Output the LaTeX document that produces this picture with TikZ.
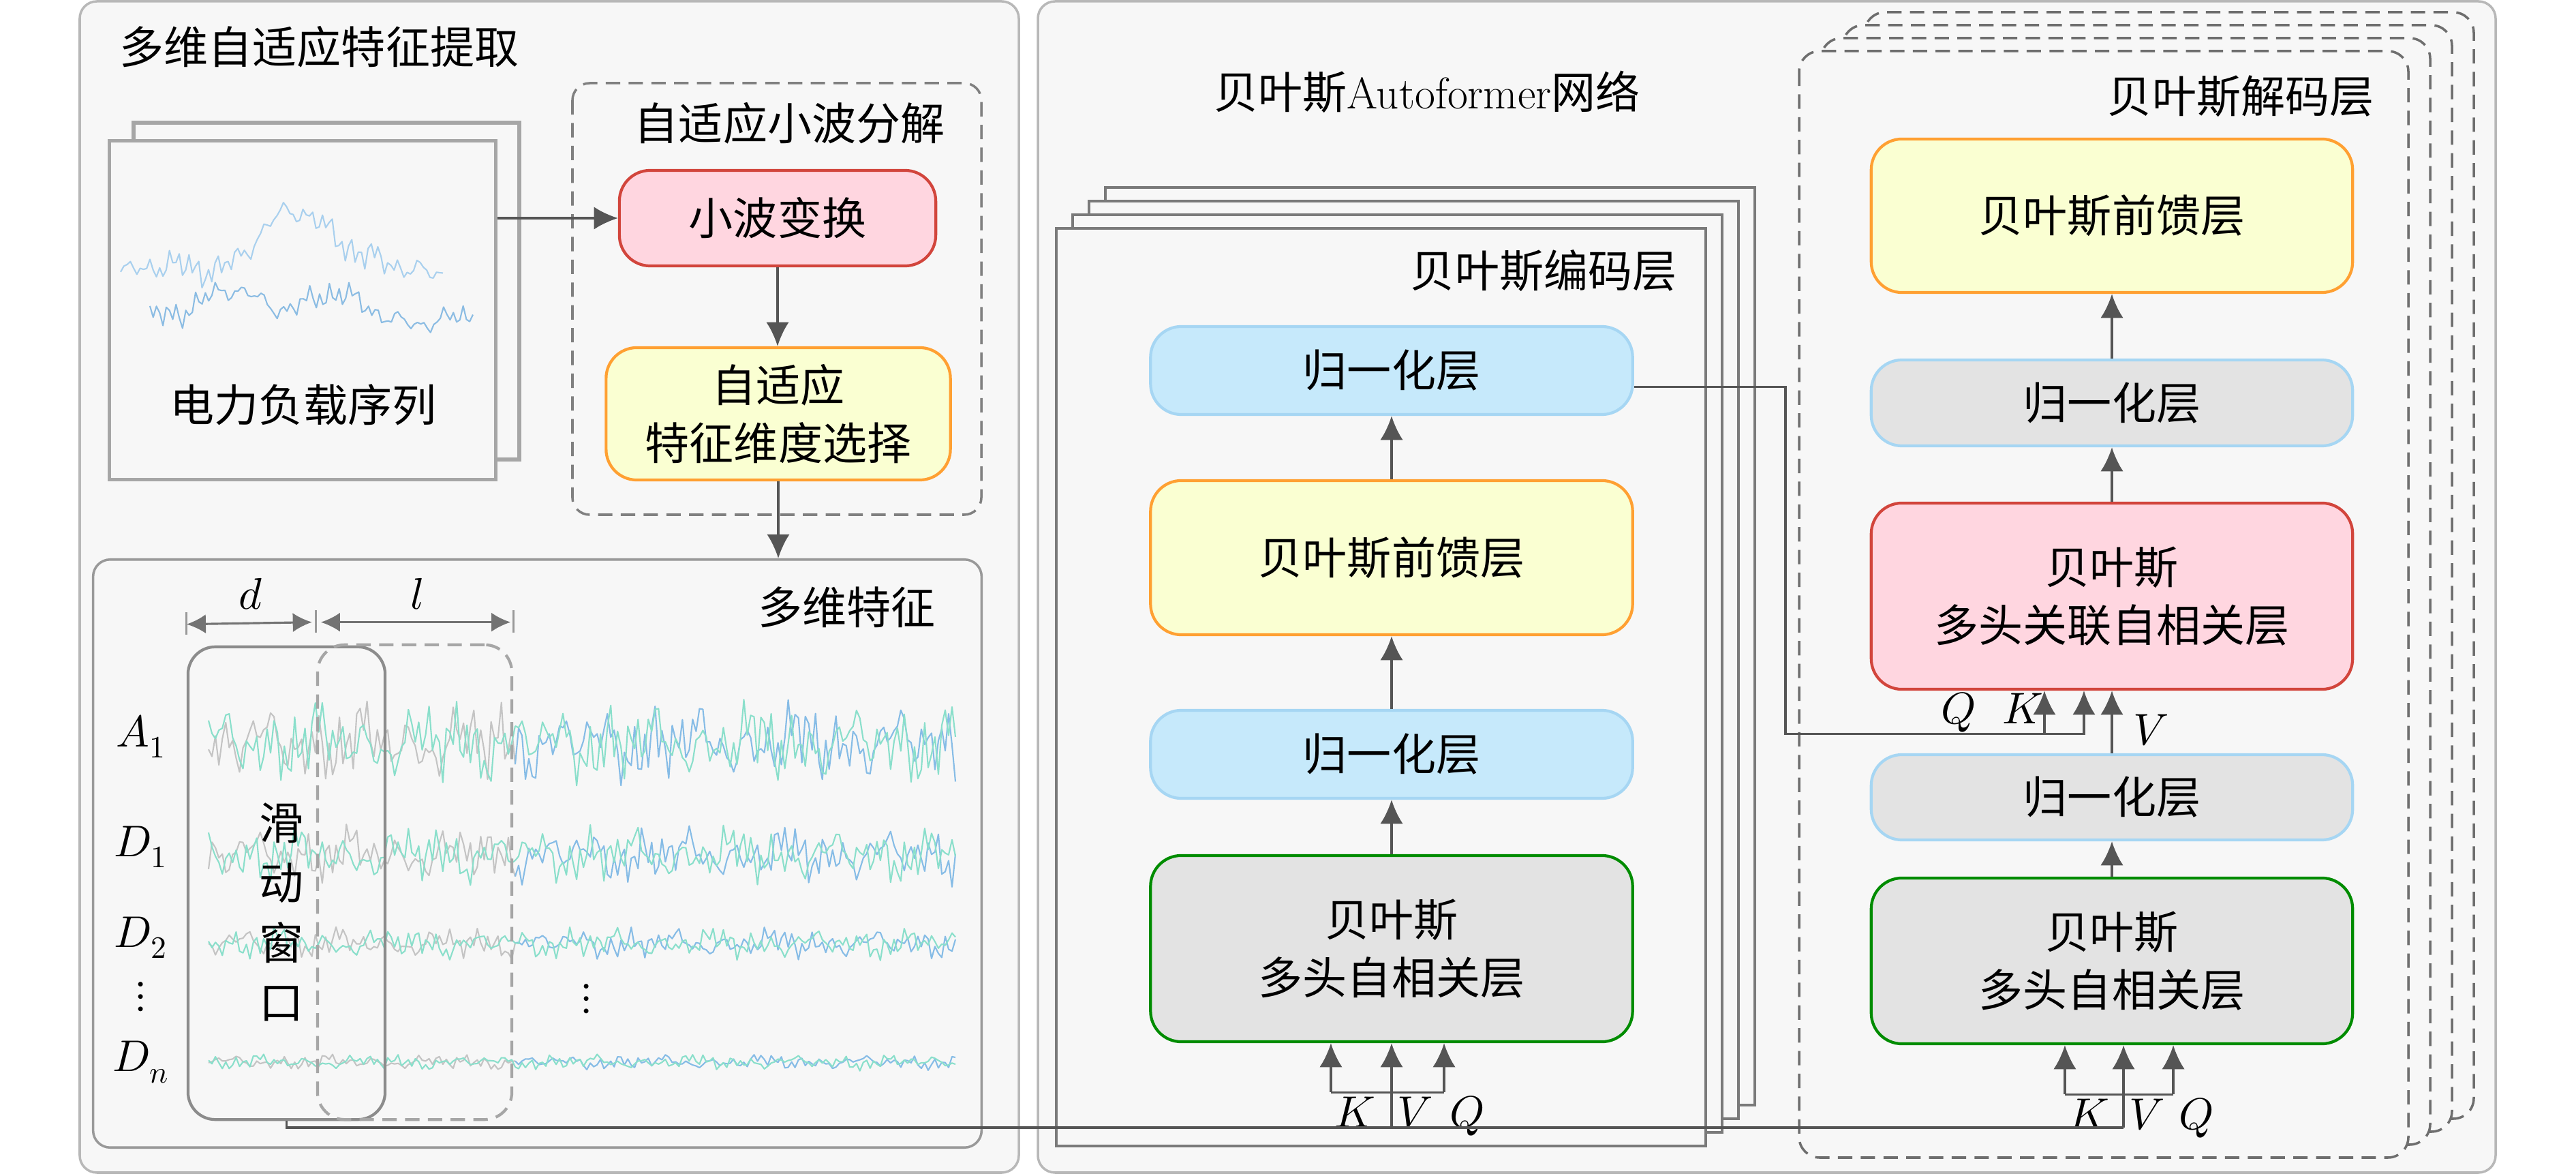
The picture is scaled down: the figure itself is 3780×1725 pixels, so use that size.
\documentclass[tikz,border=0pt]{standalone}
\usepackage{fontspec}
\usepackage{unicode-math}
\setmathfont{Latin Modern Math}
\newfontfamily\cjk{Noto Sans CJK SC}
\usetikzlibrary{arrows.meta}

\definecolor{panelbg}{HTML}{F7F7F7}
\definecolor{panelline}{HTML}{B8B8B8}
\definecolor{flowgray}{HTML}{555555}
\definecolor{stackline}{HTML}{7A7A7A}
\definecolor{pinkfill}{HTML}{FFD6E0}
\definecolor{pinkline}{HTML}{D2453C}
\definecolor{yelfill}{HTML}{FAFFD2}
\definecolor{yelline}{HTML}{FFA032}
\definecolor{bluefill}{HTML}{C6E9FB}
\definecolor{blueline}{HTML}{A6D6F3}
\definecolor{grayfill}{HTML}{E3E3E3}
\definecolor{greenline}{HTML}{008C00}
\definecolor{wblue}{HTML}{86BCE6}
\definecolor{wteal}{HTML}{8ADFCB}
\definecolor{wgray}{HTML}{C4C4C4}
\definecolor{cwaveA}{HTML}{A9D0EE}
\definecolor{cwaveB}{HTML}{8BBCE3}

% K, V, Q inputs under a block: #1 node, #2 shift of V, #3 shift of K, #4 shift of Q
\newcommand\kvq[4]{
    \coordinate (#1v) at ([xshift=#2]#1.south);
    \coordinate (#1k) at ([xshift=#3]#1v);
    \coordinate (#1q) at ([xshift=#4]#1v);
    \draw[flow] ([yshift=-0.72cm]#1k) -- (#1k);
    \draw[flow] ([yshift=-0.72cm]#1q) -- (#1q);
    \draw[conn] ([yshift=-0.72cm]#1k) -- ([yshift=-0.72cm]#1q);
    \draw[flow] (#1v |- bus) -- (#1v);
    \node[anchor=base west] (#1kl) at ([xshift=0.05cm,yshift=-1.23cm]#1k) {$K$};
    \node[anchor=base west] (#1vl) at ([xshift=0.08cm,yshift=-1.23cm]#1v) {$V$};
    \node[anchor=base west] (#1ql) at ([xshift=0.08cm,yshift=-1.23cm]#1q) {$Q$};
}

\begin{document}
\begin{tikzpicture}[x=0.01cm, y=-0.01cm,
    every node/.style={font=\cjk\fontsize{18.5}{24}\selectfont, inner sep=0pt},
    panel/.style={draw=panelline, fill=panelbg, line width=1pt, rounded corners=0.25cm},
    cardbox/.style={draw=black!35, fill=white!97!black, line width=1.5pt},
    dashbox/.style={draw=black!50, line width=1pt, dash pattern=on 6pt off 3.5pt, rounded corners=0.25cm},
    block/.style={rectangle, rounded corners=0.45cm, line width=1.2pt, align=center},
    wtbox/.style={block, fill=pinkfill, draw=pinkline},
    ffnbox/.style={block, fill=yelfill, draw=yelline},
    normbox/.style={block, fill=bluefill, draw=blueline},
    grnorm/.style={block, fill=grayfill, draw=blueline},
    attnbox/.style={block, fill=grayfill, draw=greenline},
    featbox/.style={rectangle, draw=black!40, line width=1pt, rounded corners=0.25cm},
    winbox/.style={rectangle, draw=black!45, line width=1.2pt, rounded corners=0.4cm},
    encstack/.style={draw=stackline, line width=1.1pt, fill=panelbg},
    decstack/.style={draw=black!57, line width=1pt, dash pattern=on 6pt off 3.5pt, rounded corners=0.3cm, fill=panelbg},
    flow/.style={draw=flowgray, line width=0.9pt, -{Latex[length=10pt,width=9.5pt]}},
    conn/.style={draw=flowgray, line width=0.9pt},
    dimarrow/.style={draw=black!55, line width=0.9pt, {Latex[length=8pt,width=8pt]}-{Latex[length=8pt,width=8pt]}},
    tick/.style={draw=black!40, line width=0.8pt},
    wave/.style={line width=0.6pt, line join=round},
    declare function={ns(\t)=sin(mod(\t,14)*25.71)*(0.7+0.5*sin(mod(\t,230)*1.565))+0.6*sin(mod(\t,33)*10.91+40)+0.5*sin(mod(\t,71)*5.07+10)+0.45*sin(mod(\t,157)*2.293+70);}]
    \useasboundingbox (0,0) rectangle (3780,1725);

    % Panels
    \draw[panel] (117,2) rectangle (1495,1720);
    \draw[panel] (1523,2) rectangle (3662,1720);
    \node[anchor=west] (tleft) at (175,69) {多维自适应特征提取};

    % Load series card
    \draw[cardbox] (196,180) rectangle (762,674);
    \node[cardbox, minimum width=5.66cm, minimum height=4.96cm] (card) at (444,455) {};
    \draw[wave, cwaveA] plot[domain=177:650, samples=100]
        (\x, {395 - 85*exp(-((\x-440)/75)*((\x-440)/75)) + 14*ns(\x)});
    \draw[wave, cwaveB] plot[domain=220:694, samples=100]
        (\x, {470 - 45*exp(-((\x-330)/60)*((\x-330)/60)) - 40*exp(-((\x-480)/60)*((\x-480)/60)) + 12*ns(\x+31)});
    \node (cardtxt) at (445,594) {电力负载序列};

    % Wavelet decomposition
    \draw[dashbox] (840,122) rectangle (1440,755);
    \node[anchor=east] (wdtxt) at (1387,181) {自适应小波分解};
    \node[wtbox, minimum width=4.64cm, minimum height=1.40cm] (wt) at (1141,320) {小波变换};
    \node[ffnbox, minimum width=5.05cm, minimum height=1.94cm] (sel) at (1142,607) {自适应\\特征维度选择};

    % Multi-dim features
    \node[featbox, minimum width=13.03cm, minimum height=8.62cm] (feat) at (788.5,1252) {};
    \node[anchor=east] (feattxt) at (1373,891) {多维特征};
    \foreach \yc/\amp [count=\r] in {1090/32, 1254/22, 1384/12, 1558/6} {
        \draw[wave, wgray] plot[domain=306:756, samples=90] (\x, {\yc + \amp*ns(\x+17*\r)});
        \draw[wave, wteal] plot[domain=306:756, samples=90] (\x, {\yc + \amp*ns(\x+53+29*\r)});
        \draw[wave, wblue] plot[domain=756:1402, samples=130] (\x, {\yc + \amp*ns(\x+17*\r)});
        \draw[wave, wteal] plot[domain=756:1402, samples=130] (\x, {\yc + \amp*ns(\x+53+29*\r)});
    }
    \node[winbox, minimum width=2.89cm, minimum height=6.93cm] (win) at (420.5,1295.5) {};
    \node[winbox, draw=black!35, dash pattern=on 6pt off 3.5pt, minimum width=2.85cm, minimum height=6.96cm] (win2) at (608.5,1294) {};
    \node[align=center, font=\cjk\fontsize{18.5}{25}\selectfont] (wintxt) at (413,1338) {滑\\动\\窗\\口};
    \node (ra) at (207,1080) {$A_1$};
    \node (rd1) at (207,1242) {$D_1$};
    \node (rd2) at (207,1375) {$D_2$};
    \node (rdots) at (207,1462) {$\vdots$};
    \node (rdn) at (207,1558) {$D_n$};
    \node (mdots) at (861,1465) {$\vdots$};

    % d and l
    \draw[tick] ([yshift=0.16cm]win.north west) -- ([yshift=0.49cm]win.north west);
    \draw[tick] ([yshift=0.16cm]win2.north west) -- ([yshift=0.49cm]win2.north west);
    \draw[tick] ([yshift=0.16cm]win2.north east) -- ([yshift=0.49cm]win2.north east);
    \draw[dimarrow] ([yshift=0.31cm]win.north west) -- ([xshift=-0.06cm,yshift=0.31cm]win2.north west);
    \draw[dimarrow] ([xshift=0.07cm,yshift=0.31cm]win2.north west) -- ([xshift=-0.04cm,yshift=0.31cm]win2.north east);
    \node (dlbl) at (368,871) {$d$};
    \node (llbl) at (612,871) {$l$};

    \draw[flow] (wt.west -| card.east) -- (wt.west);
    \draw[flow] (wt.south) -- (wt.south |- sel.north);
    \draw[flow] (sel.south) -- (sel.south |- feat.north);

    % Autoformer
    \node (ttl) at (2094,135) {贝叶斯{\rmfamily Autoformer}网络};

    % Encoder layers
    \foreach \i in {3,2,1,0}
        \draw[encstack] ({1550+24*\i},{335-20*\i}) rectangle ({2503+24*\i},{1681-20*\i});
    \node[anchor=east] (enctxt) at (2461,397) {贝叶斯编码层};
    \node[normbox, minimum width=7.07cm, minimum height=1.29cm] (enorm2) at (2042,543.5) {归一化层};
    \node[ffnbox, minimum width=7.07cm, minimum height=2.26cm] (effn) at (2042,818) {贝叶斯前馈层};
    \node[normbox, minimum width=7.07cm, minimum height=1.29cm] (enorm1) at (2042,1106.5) {归一化层};
    \node[attnbox, minimum width=7.07cm, minimum height=2.73cm] (eattn) at (2042,1391.5) {贝叶斯\\多头自相关层};

    % Decoder layers
    \foreach \i in {3,2,1,0}
        \draw[decstack] ({2640+32*\i},{75-19*\i}) rectangle ({3534+32*\i},{1698-19*\i});
    \node[anchor=east] (dectxt) at (3484,141) {贝叶斯解码层};
    \node[ffnbox, minimum width=7.06cm, minimum height=2.25cm] (dffn) at (3099,316.5) {贝叶斯前馈层};
    \node[grnorm, minimum width=7.06cm, minimum height=1.26cm] (dnorm2) at (3099,591) {归一化层};
    \node[wtbox, minimum width=7.06cm, minimum height=2.73cm] (dcross) at (3099,874.5) {贝叶斯\\多头关联自相关层};
    \node[grnorm, minimum width=7.06cm, minimum height=1.25cm] (dnorm1) at (3099,1169.5) {归一化层};
    \node[attnbox, minimum width=7.06cm, minimum height=2.43cm] (dattn) at (3099,1409.5) {贝叶斯\\多头自相关层};

    \draw[flow] (eattn.north) -- (enorm1.south);
    \draw[flow] (enorm1.north) -- (effn.south);
    \draw[flow] (effn.north) -- (enorm2.south);
    \draw[flow] (dattn.north) -- (dnorm1.south);
    \draw[flow] (dnorm1.north) -- (dcross.south);
    \draw[flow] (dcross.north) -- (dnorm2.south);
    \draw[flow] (dnorm2.north) -- (dffn.south);

    % Inputs
    \coordinate (bus) at (0,1654);
    \kvq{eattn}{0cm}{-0.89cm}{0.77cm}
    \kvq{dattn}{0.17cm}{-0.86cm}{0.73cm}
    \draw[conn] (win.south) |- (dattnv |- bus);

    % Encoder output into decoder
    \coordinate (tap) at ([yshift=-0.24cm]enorm2.east);
    \coordinate (ck) at ([xshift=-0.41cm]dcross.south);
    \coordinate (cq) at ([xshift=-0.99cm]dcross.south);
    \draw[flow] (tap) -- ++(2.22cm,0) |- ([yshift=-0.63cm]ck) -- (ck);
    \draw[flow] ([yshift=-0.63cm]cq) -- (cq);
    \node[anchor=base west] (cql) at (2848,1061) {$Q$};
    \node[anchor=base west] (ckl) at (2938,1061) {$K$};
    \node[anchor=base west] (cvl) at (3130,1093) {$V$};
\end{tikzpicture}
\end{document}
